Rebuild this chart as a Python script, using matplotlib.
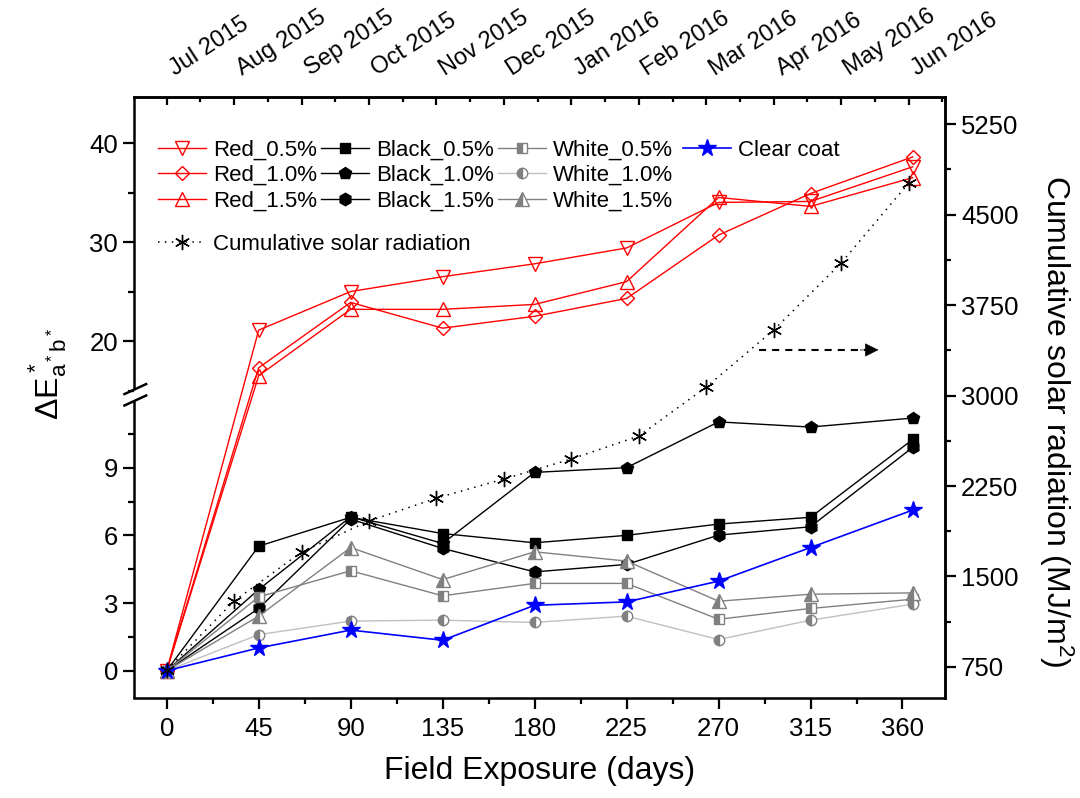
import matplotlib
matplotlib.use('Agg')
import numpy as np
from matplotlib import pyplot as plt
from matplotlib.transforms import ScaledTranslation

plt.rcParams['font.family'] = ['Liberation Sans', 'DejaVu Sans']
plt.rcParams['mathtext.default'] = 'regular'

# colour change data (left axis)
days = [0, 45, 90, 135, 180, 225, 270, 315, 365]
red_05 = [0, 21.1, 25.0, 26.5, 27.8, 29.4, 34.0, 34.1, 37.6]
red_10 = [0, 17.3, 23.9, 21.3, 22.5, 24.3, 30.7, 34.9, 38.6]
red_15 = [0, 16.5, 23.2, 23.2, 23.7, 26.0, 34.5, 33.6, 36.5]
black_05 = [0, 5.52, 6.80, 6.08, 5.67, 6.00, 6.50, 6.80, 10.25]
black_10 = [0, 3.60, 6.82, 5.64, 8.79, 9.00, 11.03, 10.80, 11.2]
black_15 = [0, 2.76, 6.72, 5.42, 4.38, 4.71, 6.01, 6.38, 9.9]
white_05 = [0, 3.27, 4.43, 3.32, 3.87, 3.87, 2.28, 2.76, 3.17]
white_10 = [0, 1.60, 2.20, 2.24, 2.14, 2.42, 1.38, 2.24, 2.95]
white_15 = [0, 2.42, 5.46, 4.04, 5.27, 4.86, 3.08, 3.39, 3.45]
clear_coat = [0, 1.01, 1.80, 1.35, 2.90, 3.05, 3.97, 5.46, 7.12]

# cumulative solar radiation (right axis), one point per month
month_days = [0, 33, 66, 99, 132, 165, 198, 231, 264, 297, 330, 363]
month_labels = ['Jul 2015', 'Aug 2015', 'Sep 2015', 'Oct 2015', 'Nov 2015', 'Dec 2015',
                'Jan 2016', 'Feb 2016', 'Mar 2016', 'Apr 2016', 'May 2016', 'Jun 2016']
solar = [725, 1297, 1703, 1960, 2150, 2308, 2474, 2664, 3070, 3543, 4098, 4761]

# broken left axis: 0..12.3 and 15..45 with different scales
LOW_TOP, HIGH_BOT = 12.3, 15.0
LOW_K, HIGH_K, GAP = 22.56, 9.9, 2.7


def fwd(y):
    y = np.asarray(y, dtype=float)
    lo = y * LOW_K
    mid = LOW_TOP * LOW_K + (y - LOW_TOP) / (HIGH_BOT - LOW_TOP) * GAP
    hi = LOW_TOP * LOW_K + GAP + (y - HIGH_BOT) * HIGH_K
    return np.where(y <= LOW_TOP, lo, np.where(y >= HIGH_BOT, hi, mid))


def inv(v):
    v = np.asarray(v, dtype=float)
    v1 = LOW_TOP * LOW_K
    v2 = v1 + GAP
    lo = v / LOW_K
    mid = LOW_TOP + (v - v1) / GAP * (HIGH_BOT - LOW_TOP)
    hi = HIGH_BOT + (v - v2) / HIGH_K
    return np.where(v <= v1, lo, np.where(v >= v2, hi, mid))


def main():
    fig = plt.figure(figsize=(10.8, 7.98), dpi=100)
    ax = fig.add_axes([134 / 1080, 100 / 798, 811 / 1080, 601 / 798])
    ax.set_yscale('function', functions=(fwd, inv))
    ax.set_xlim(-16, 380.8)
    ax.set_ylim(-1.21, 44.65)

    gray = '#808080'
    lred = dict(color='red', lw=1.0, mfc='none', mec='red', mew=1.0)
    h1, = ax.plot(days, red_05, marker='v', ms=10, label='Red_0.5%', **lred)
    h2, = ax.plot(days, red_10, marker='D', ms=6.8, label='Red_1.0%', **lred)
    h3, = ax.plot(days, red_15, marker='^', ms=10, label='Red_1.5%', **lred)
    h4, = ax.plot(days, black_05, color='black', lw=1.0, marker='s', ms=7, label='Black_0.5%')
    h5, = ax.plot(days, black_10, color='black', lw=1.0, marker='p', ms=9, label='Black_1.0%')
    h6, = ax.plot(days, black_15, color='black', lw=1.0, marker='h', ms=9, label='Black_1.5%')
    lw_ = dict(mfc=gray, mfcalt='white', mec=gray, mew=1.0, fillstyle='left')
    h7, = ax.plot(days, white_05, color=gray, lw=1.0, marker='s', ms=7, label='White_0.5%', **lw_)
    h8, = ax.plot(days, white_10, color='#c0c0c0', lw=1.0, marker='o', ms=7.5, label='White_1.0%', **lw_)
    h9, = ax.plot(days, white_15, color=gray, lw=1.0, marker='^', ms=9.5, label='White_1.5%', **lw_)
    h10, = ax.plot(days, clear_coat, color='blue', lw=1.2, marker='*', ms=13, label='Clear coat')

    # arrow pointing to the right axis
    ax.plot([290, 342], [19.1, 19.1], color='black', lw=1.5, ls=(0, (3.4, 2.9)))
    ax.annotate('', xy=(349.6, 19.1), xytext=(338, 19.1),
                arrowprops=dict(arrowstyle='-|>', color='black', lw=0.5, mutation_scale=22))

    ax.set_xticks(np.arange(0, 361, 45))
    ax.set_xticks(np.arange(22.5, 380, 45), minor=True)
    ax.set_yticks([0, 3, 6, 9, 20, 30, 40])
    ax.set_yticks([1.5, 4.5, 7.5, 10.5, 15, 25, 35], minor=True)
    ax.yaxis.set_major_formatter(plt.FuncFormatter(lambda v, p: '%d' % round(v)))
    ax.yaxis.set_minor_formatter(plt.NullFormatter())
    ax.tick_params(which='major', direction='out', length=8, width=1.6, labelsize=18.5)
    ax.tick_params(which='minor', direction='out', length=4, width=1.6)
    ax.tick_params(axis='x', which='major', pad=6)

    for s in ['bottom', 'top', 'right']:
        ax.spines[s].set_linewidth(1.8)
    ax.spines['left'].set_visible(False)
    # broken left spine with // marks
    kw = dict(transform=ax.transAxes, color='black', lw=1.8, clip_on=False, solid_capstyle='butt')
    ax.plot([0, 0], [0, 0.494], **kw)
    ax.plot([0, 0], [0.514, 1], **kw)
    for yc in (0.495, 0.514):
        ax.plot([-0.0132, 0.0164], [yc - 0.0092, yc + 0.0092], **kw)

    ax.set_xlabel('Field Exposure (days)', fontsize=23)
    ax.xaxis.set_label_coords(0.5, -0.097)
    ax.set_ylabel(r'$\Delta E^*_{a^*b^*}$', fontsize=23)
    ax.yaxis.set_label_coords(-0.08, 0.54)

    # top axis with month names
    top = ax.secondary_xaxis('top')
    top.set_xticks(month_days, labels=month_labels)
    top.set_xticks([d + 16.5 for d in [-33] + month_days], minor=True)
    top.tick_params(which='major', direction='in', length=6, width=1.6, pad=12, labelsize=17)
    top.tick_params(which='minor', direction='in', length=3.5, width=1.6)
    top.spines['top'].set_linewidth(1.8)
    shift = ScaledTranslation(0.11, 0, fig.dpi_scale_trans)
    for tk in top.xaxis.get_major_ticks():
        lab = tk.label2
        lab.set_rotation(33)
        lab.set_ha('left')
        lab.set_rotation_mode('anchor')
        lab.set_transform(lab.get_transform() + shift)

    # right axis: cumulative solar radiation
    ax2 = ax.twinx()
    for s in ['left', 'top', 'bottom']:
        ax2.spines[s].set_visible(False)
    ax2.spines['right'].set_linewidth(1.8)
    h11, = ax2.plot(month_days, solar, color='black', lw=1.1, ls=(0, (1, 3.5)),
                    marker=(6, 2, 0), ms=11, mew=1.0, label='Cumulative solar radiation')
    ax2.set_ylim(493, 5474)
    ax2.set_yticks(np.arange(750, 5251, 750))
    ax2.set_yticks(np.arange(1125, 5300, 750), minor=True)
    ax2.tick_params(which='major', direction='out', length=8, width=1.6, labelsize=18.5)
    ax2.tick_params(which='minor', direction='out', length=4, width=1.6)
    ax2.set_ylabel('Cumulative solar radiation (MJ/m$^2$)', fontsize=23, rotation=270, va='bottom')
    ax2.yaxis.set_label_coords(1.113, 0.461)

    lkw = dict(loc='upper left', frameon=False, fontsize=16, handlelength=2.16,
               handletextpad=0.3, labelspacing=0.2, borderpad=0, borderaxespad=0)
    leg = ax2.legend([h1, h2, h3, h4, h5, h6, h7, h8, h9],
                     ['Red_0.5%', 'Red_1.0%', 'Red_1.5%', 'Black_0.5%', 'Black_1.0%', 'Black_1.5%',
                      'White_0.5%', 'White_1.0%', 'White_1.5%'],
                     ncol=3, columnspacing=0.2, bbox_to_anchor=(0.0296, 0.929), **lkw)
    ax2.add_artist(leg)
    leg2 = ax2.legend([h10], ['Clear coat'], bbox_to_anchor=(0.677, 0.929), **lkw)
    ax2.add_artist(leg2)
    ax2.legend([h11], ['Cumulative solar radiation'], bbox_to_anchor=(0.0296, 0.772), **lkw)

    fig.savefig('out.png', dpi=100)


if __name__ == '__main__':
    main()
